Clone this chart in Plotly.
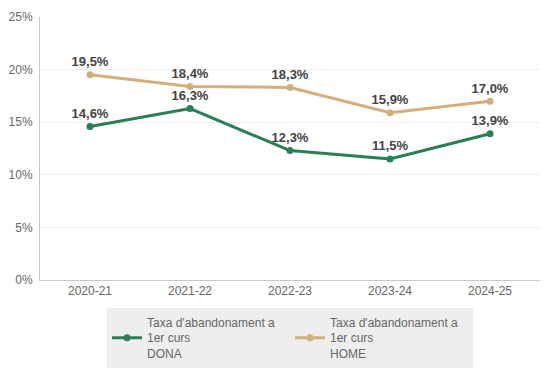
import plotly.graph_objects as go

categories = ["2020-21", "2021-22", "2022-23", "2023-24", "2024-25"]
dona = [14.6, 16.3, 12.3, 11.5, 13.9]
home = [19.5, 18.4, 18.3, 15.9, 17.0]
series_names = ["Taxa d'abandonament a<br>1er curs<br>DONA", "Taxa d'abandonament a<br>1er curs<br>HOME"]
colors = ["#2a7f56", "#d4ae7c"]

def fmt(v):
    return f"{v:.1f}%".replace(".", ",")

fig = go.Figure()
for vals, name, col in [(dona, series_names[0], colors[0]), (home, series_names[1], colors[1])]:
    fig.add_trace(go.Scatter(
        x=categories, y=vals, name=name, mode="lines+markers+text",
        line=dict(color=col, width=3), marker=dict(color=col, size=7),
        text=[fmt(v) for v in vals], textposition="top center",
        textfont=dict(family="Liberation Sans, Arial", size=13, color="#444444", weight="bold"),
        cliponaxis=False,
    ))

fig.update_layout(
    width=540, height=369,
    margin=dict(l=32, r=8, t=9, b=97, autoexpand=False),
    plot_bgcolor="white", paper_bgcolor="white",
    font=dict(family="Liberation Sans, Arial", size=12, color="#666666"),
    xaxis=dict(showgrid=False, showline=True, linecolor="#c8c8c8", linewidth=1, automargin=False,
               ticks="", range=[-0.5, 4.5], tickfont=dict(size=12, color="#666666")),
    yaxis=dict(range=[0, 25], dtick=5, ticksuffix="%", showgrid=True, gridcolor="#eeeeee",
               showline=True, linecolor="#c8c8c8", linewidth=1, zeroline=False, automargin=False,
               ticklabelstandoff=4,
               tickfont=dict(size=12, color="#666666")),
    legend=dict(orientation="h", x=0.5, xanchor="center", y=-0.106, yanchor="top",
                bgcolor="#eeeeee", font=dict(size=12, color="#666666"),
                itemwidth=30, entrywidth=138, entrywidthmode="pixels"),
    showlegend=True,
)

fig.write_html("out.html")
